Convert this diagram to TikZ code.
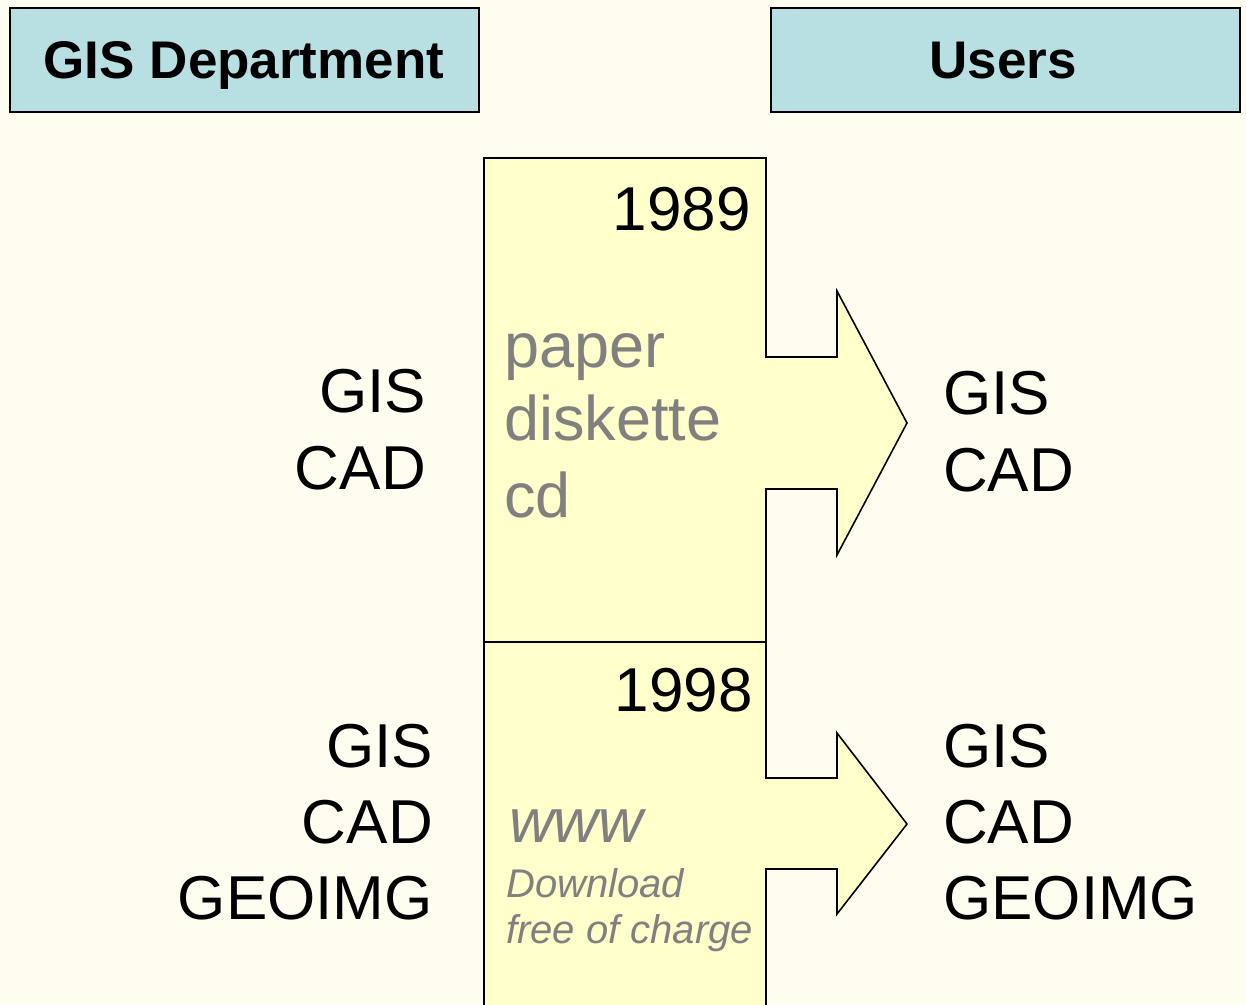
\documentclass[tikz,border=0pt]{standalone}
\usepackage{fontspec}
\setmainfont{Liberation Sans}
\definecolor{bgcream}{HTML}{FFFDF0}
\definecolor{panelfill}{HTML}{FFFFCC}
\definecolor{headfill}{HTML}{B8E0E3}
\definecolor{softgray}{HTML}{808080}
\tikzset{
  headbox/.style={draw=black, line width=1.6pt, fill=headfill},
  panel/.style={draw=black, line width=1.6pt, fill=panelfill, line join=miter},
  headtext/.style={inner sep=0pt, anchor=base, font=\fontsize{53}{60}\selectfont\bfseries},
  bigtxt/.style={inner sep=0pt, font=\fontsize{62}{74}\selectfont},
  medialine/.style={inner sep=0pt, anchor=base west, text=softgray, font=\fontsize{63}{74}\selectfont},
  smallitalic/.style={inner sep=0pt, anchor=base west, text=softgray, font=\fontsize{40}{46}\selectfont\itshape},
}
\begin{document}
\begin{tikzpicture}[x=1pt, y=-1pt]
  \useasboundingbox (0,0) rectangle (1246,1004);
  \fill[bgcream] (0,0) rectangle (1246,1004);
  \clip (0,0) rectangle (1246,1004);

  % column headers
  \draw[headbox] (10,8) rectangle (479,112);
  \draw[headbox] (771,8) rectangle (1240,112);
  \node[headtext] (hgis) at (244,78) {GIS Department};
  \node[headtext] (husers) at (1003,78) {Users};

  % 1989 panel with its arrow
  \draw[panel] (484,158) -- (766,158) -- (766,357) -- (837,357) -- (837,291)
    -- (907,423) -- (837,555) -- (837,489) -- (766,489) -- (766,642)
    -- (484,642) -- cycle;

  % 1998 panel with its arrow
  \draw[panel] (484,642) -- (766,642) -- (766,778) -- (837,778) -- (837,733)
    -- (907,824) -- (837,914) -- (837,869) -- (766,869) -- (766,1020)
    -- (484,1020) -- cycle;

  % years
  \node[bigtxt, anchor=base east] (y89) at (751,230) {1989};
  \node[bigtxt, anchor=base east] (y98) at (753,711) {1998};

  % 1989 media
  \node[medialine] (paper) at (504,367) {paper};
  \node[medialine] (disk) at (504,440) {diskette};
  \node[medialine] (cd) at (504,517) {cd};

  % 1998 media
  \node[medialine, font=\fontsize{62}{74}\selectfont\itshape] (www) at (509,842) {www};
  \node[smallitalic] (dl) at (506,897) {Download};
  \node[smallitalic] (free) at (506,943) {free of charge};

  % GIS department, 1989
  \node[bigtxt, anchor=base east] (lg1) at (426,412) {GIS};
  \node[bigtxt, anchor=base east] (lc1) at (426,489) {CAD};
  % users, 1989
  \node[bigtxt, anchor=base west] (rg1) at (943,414) {GIS};
  \node[bigtxt, anchor=base west] (rc1) at (943,491) {CAD};

  % GIS department, 1998
  \node[bigtxt, anchor=base east] (lg2) at (433,767) {GIS};
  \node[bigtxt, anchor=base east] (lc2) at (433,843) {CAD};
  \node[bigtxt, anchor=base east] (lo2) at (433,919) {GEOIMG};
  % users, 1998
  \node[bigtxt, anchor=base west] (rg2) at (943,767) {GIS};
  \node[bigtxt, anchor=base west] (rc2) at (943,843) {CAD};
  \node[bigtxt, anchor=base west] (ro2) at (943,919) {GEOIMG};
\end{tikzpicture}
\end{document}
